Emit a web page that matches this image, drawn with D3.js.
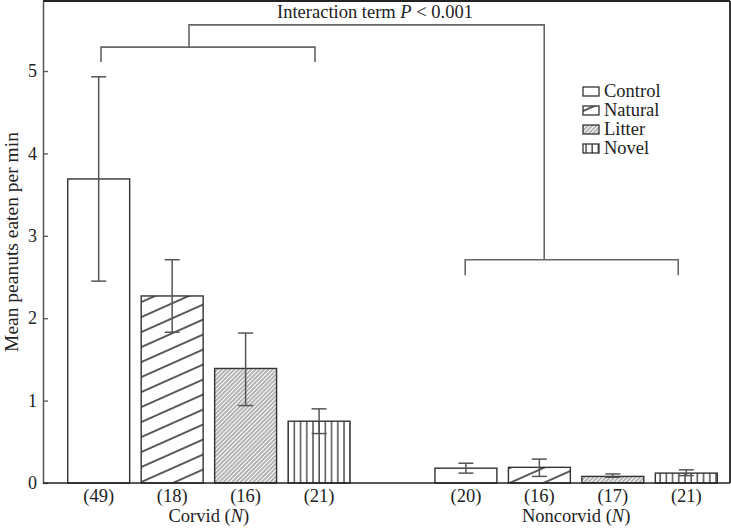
<!DOCTYPE html>
<html><head><meta charset="utf-8">
<script src="https://cdn.jsdelivr.net/npm/d3@7"></script>
<style>body{margin:0;background:#fff}svg{display:block}text{font-family:"Liberation Serif","DejaVu Serif",serif;fill:#222}</style>
</head><body><svg id="c" width="731" height="528"></svg>
<script>
const groups = ["Corvid", "Noncorvid"];
const conditions = ["Control", "Natural", "Litter", "Novel"];
const corvidMeans = [3.69, 2.27, 1.39, 0.75];
const corvidLow = [2.45, 1.83, 0.94, 0.60];
const corvidHigh = [4.93, 2.71, 1.82, 0.90];
const corvidN = [49, 18, 16, 21];
const noncorvidMeans = [0.18, 0.19, 0.08, 0.12];
const noncorvidLow = [0.12, 0.08, 0.07, 0.09];
const noncorvidHigh = [0.24, 0.29, 0.11, 0.16];
const noncorvidN = [20, 16, 17, 21];
const yTicks = [0, 1, 2, 3, 4, 5];

const data = [];
groups.forEach((g, gi) => {
  const m = gi ? noncorvidMeans : corvidMeans, lo = gi ? noncorvidLow : corvidLow,
        hi = gi ? noncorvidHigh : corvidHigh, n = gi ? noncorvidN : corvidN;
  conditions.forEach((c, ci) => data.push({g, c, v: m[ci], lo: lo[ci], hi: hi[ci], n: n[ci]}));
});

const svg = d3.select("#c");
const L = 43, R = 730, T = 1, B = 483;
const FS = 18.5;
const y = d3.scaleLinear().domain([0, 5.85]).range([B, T]);
const x0 = d3.scaleBand().domain(groups).range([62, 723]).paddingInner(0.2).paddingOuter(0);
const x1 = d3.scaleBand().domain(conditions).range([0, x0.bandwidth()]).paddingInner(0.157).paddingOuter(0.078);

// patterns
const defs = svg.append("defs");
const pn = defs.append("pattern").attr("id", "pNatural").attr("patternUnits", "userSpaceOnUse")
  .attr("width", 40).attr("height", 13.7).attr("patternTransform", "translate(0,4) rotate(-24)");
pn.append("line").attr("x1", 0).attr("x2", 40).attr("y1", 1).attr("y2", 1).attr("stroke", "#222").attr("stroke-width", 1.5);
const pl = defs.append("pattern").attr("id", "pLitter").attr("patternUnits", "userSpaceOnUse")
  .attr("width", 10).attr("height", 3).attr("patternTransform", "rotate(-45)");
pl.append("rect").attr("width", 10).attr("height", 3).attr("fill", "#fff");
pl.append("line").attr("x1", 0).attr("x2", 10).attr("y1", 1).attr("y2", 1).attr("stroke", "#666").attr("stroke-width", 1);
const pv = defs.append("pattern").attr("id", "pNovel").attr("patternUnits", "userSpaceOnUse")
  .attr("width", 6.2).attr("height", 10).attr("x", 2);
pv.append("line").attr("x1", 1).attr("x2", 1).attr("y1", 0).attr("y2", 10).attr("stroke", "#444").attr("stroke-width", 1.4);
const fillOf = {Control: "#fff", Natural: "url(#pNatural)", Litter: "url(#pLitter)", Novel: "url(#pNovel)"};

// frame
svg.append("line").attr("x1", L).attr("x2", R).attr("y1", T).attr("y2", T).attr("stroke", "#222").attr("stroke-width", 1.8);
svg.append("line").attr("x1", R).attr("x2", R).attr("y1", T).attr("y2", B).attr("stroke", "#222").attr("stroke-width", 1.8);

// bars
const bx = d => x0(d.g) + x1(d.c);
svg.append("g").selectAll("rect").data(data).join("rect")
  .attr("x", bx).attr("width", x1.bandwidth())
  .attr("y", d => y(d.v)).attr("height", d => y(0) - y(d.v))
  .attr("fill", d => fillOf[d.c]).attr("stroke", "#333").attr("stroke-width", 1.4);

// error bars
const eb = svg.append("g").attr("stroke", "#555").attr("stroke-width", 1.5).attr("fill", "none");
data.forEach(d => {
  const cx = bx(d) + x1.bandwidth() / 2;
  eb.append("line").attr("x1", cx).attr("x2", cx).attr("y1", y(d.lo)).attr("y2", y(d.hi));
  eb.append("line").attr("x1", cx - 7.5).attr("x2", cx + 7.5).attr("y1", y(d.lo)).attr("y2", y(d.lo));
  eb.append("line").attr("x1", cx - 7.5).attr("x2", cx + 7.5).attr("y1", y(d.hi)).attr("y2", y(d.hi));
});

// axes
const ya = svg.append("g").attr("transform", `translate(${L},0)`)
  .call(d3.axisLeft(y).tickValues(yTicks).tickFormat(d3.format("d")).tickSizeInner(-5).tickSizeOuter(0).tickPadding(6));
ya.select(".domain").attr("stroke", "#555").attr("stroke-width", 1.5);
ya.selectAll(".tick line").attr("stroke", "#555").attr("stroke-width", 1.3);
ya.selectAll(".tick text").attr("font-size", 18).attr("font-family", "Liberation Serif").attr("fill", "#222");
svg.append("line").attr("x1", L).attr("x2", R).attr("y1", B).attr("y2", B).attr("stroke", "#222").attr("stroke-width", 1.6);

// N labels
svg.append("g").selectAll("text").data(data).join("text")
  .attr("x", d => bx(d) + x1.bandwidth() / 2).attr("y", 502).attr("text-anchor", "middle")
  .attr("font-size", FS).text(d => `(${d.n})`);
groups.forEach(g => {
  const t = svg.append("text").attr("x", x0(g) + x0.bandwidth() / 2).attr("y", 522)
    .attr("text-anchor", "middle").attr("font-size", FS);
  t.append("tspan").text(g + " (");
  t.append("tspan").attr("font-style", "italic").text("N");
  t.append("tspan").text(")");
});

// y label
svg.append("text").attr("transform", `translate(18,${(T + B) / 2}) rotate(-90)`)
  .attr("text-anchor", "middle").attr("font-size", 19.5).text("Mean peanuts eaten per min");

// brackets
const br = svg.append("g").attr("stroke", "#666").attr("stroke-width", 1.6).attr("fill", "none");
const gx = (g, off) => x0(g) + off;
const yTop = y(5.56), yC = y(5.29), yCleg = y(5.11), yN = y(2.71), yNleg = y(2.52);
br.append("path").attr("d", `M${gx("Corvid", 39)},${yCleg}V${yC}H${gx("Corvid", 253)}V${yCleg}`);
br.append("path").attr("d", `M${gx("Noncorvid", 36)},${yNleg}V${yN}H${gx("Noncorvid", 249)}V${yNleg}`);
br.append("path").attr("d", `M${gx("Corvid", 127)},${yC}V${yTop}H${gx("Noncorvid", 115)}V${yN}`);
const it = svg.append("text").attr("x", 375).attr("y", 18).attr("text-anchor", "middle").attr("font-size", FS);
it.append("tspan").text("Interaction term ");
it.append("tspan").attr("font-style", "italic").text("P");
it.append("tspan").text(" < 0.001");

// legend
const lg = svg.append("g").attr("transform", "translate(583,87)");
conditions.forEach((c, i) => {
  const r = lg.append("g").attr("transform", `translate(0,${i * 19})`);
  r.append("rect").attr("width", 16).attr("height", 9).attr("fill", fillOf[c]).attr("stroke", "#333").attr("stroke-width", 1.3);
  r.append("text").attr("x", 21).attr("y", 10).attr("font-size", FS).text(c);
});
</script></body></html>
